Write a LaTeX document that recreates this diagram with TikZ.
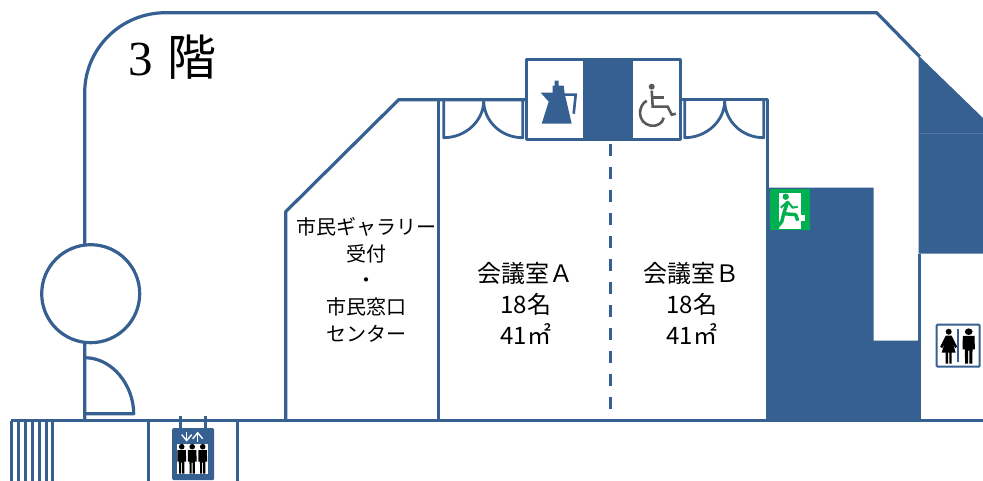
\documentclass[tikz,border=0pt]{standalone}
\usepackage{fontspec}
\setmainfont{Carlito}
\newfontfamily\cjk{Noto Sans CJK JP}
\newfontfamily\titleserif{Liberation Serif}
\usetikzlibrary{arrows.meta}
\definecolor{wallblue}{HTML}{376092}
\definecolor{exitgreen}{HTML}{00B050}
\definecolor{signgrey}{HTML}{595959}

\begin{document}
\begin{tikzpicture}[
    x=1pt, y=-1pt,
    wall/.style={draw=wallblue, line width=3.2pt, line join=round},
    thinwall/.style={draw=wallblue, line width=2.6pt},
    solid block/.style={fill=wallblue},
    room label/.style={align=center, font=\cjk\fontsize{24}{31}\selectfont},
    desk label/.style={align=center, font=\cjk\fontsize{20}{26.7}\selectfont},
    man/.pic={
        \fill (0,0) circle (2.8);
        \fill (-4.2,3.5) -- (4.2,3.5) -- (4.4,15) -- (3,15) -- (2.8,8) -- (2.6,27) -- (0.5,27) -- (0.5,16)
            -- (-0.5,16) -- (-0.5,27) -- (-2.6,27) -- (-2.8,8) -- (-3,15) -- (-4.4,15) -- cycle;
    },
    woman/.pic={
        \fill (0,0) circle (3);
        \fill (-3,4) -- (3,4) -- (8.5,15) -- (6.5,16.5) -- (4,11) -- (7,21) -- (3,21) -- (3,32) -- (0.6,32) -- (0.6,21)
            -- (-0.6,21) -- (-0.6,32) -- (-3,32) -- (-3,21) -- (-7,21) -- (-4,11) -- (-6.5,16.5) -- (-8.5,15) -- cycle;
    }
]

    % Page
    \useasboundingbox (-0.7,-0.7) rectangle (982.3,480.3);
    \fill[white] (-0.7,-0.7) rectangle (982.3,480.3);

    % Blue areas
    \fill[solid block] (767,187) -- (873,187) -- (873,340) -- (919,340) -- (919,420) -- (767,420) -- cycle;
    \fill[solid block] (918,55) -- (983,118) -- (983,253) -- (918,253) -- cycle;
    \draw[wallblue!85!white, line width=0.5pt] (918,133) -- (983,133);

    % Outer walls
    \draw[wall] (84,420) -- (84,92) .. controls (84,48) and (120,12) .. (165,12) -- (876,12) -- (919,56);
    \draw[wall] (919,253) -- (919,420);
    \draw[thinwall] (10,420) -- (983,420);
    \foreach \stripex in {11,18,25,32,39,46,52}
        \draw[thinwall] (\stripex,420) -- (\stripex,481);
    \draw[thinwall] (148,420) -- (148,481);
    \draw[thinwall] (237,420) -- (237,481);

    % Circle and door
    \draw[wall, fill=white] (90,293) circle (49);
    \draw[wall] (84,357) .. controls (112,357) and (133,385) .. (133,413) -- (84,413);

    % Rooms
    \draw[wall] (285,420) -- (285,211) -- (398,99) -- (526,99);
    \draw[wall] (438,99) -- (438,420);
    \draw[wall] (680,99) -- (767,99) -- (767,420);
    \draw[draw=wallblue, line width=3.4pt, dash pattern=on 12pt off 11pt] (610,143) -- (610,420);

    % Double doors
    \foreach \doorx in {443,684} {
        \draw[wall, line width=2.8pt] (\doorx,100) -- (\doorx,137) .. controls (\doorx+22,137) and (\doorx+40,120) .. (\doorx+40,100)
            .. controls (\doorx+40,120) and (\doorx+57,137) .. (\doorx+79,137) -- (\doorx+79,100);
    }

    % Kitchen and accessible toilet
    \fill[solid block] (582,59) rectangle (632,139);
    \draw[wall, line width=2.6pt] (526,59) rectangle (680,139);
    \fill[wallblue] (541,123) -- (548,101) -- (540,92) -- (552,92) -- (552,85) -- (554,85) -- (554,80) -- (558,80)
        -- (558,85) -- (563,85) -- (564,93) -- (571,123) -- cycle;
    \draw[draw=wallblue, line width=2.6pt] (563,94) -- (575,94) -- (573,113);
    \fill[signgrey] (651,86) circle (3);
    \draw[draw=signgrey, line width=2.6pt] (651,90) -- (652,106) -- (667,106) -- (671,114) -- (675,113);
    \draw[draw=signgrey, line width=2.6pt] (652,97) -- (663,97);
    \draw[draw=signgrey, line width=2.6pt] (646,100) .. controls (637,105) and (636,122) .. (650,125)
        .. controls (657,126) and (662,122) .. (663,117);

    % Exit sign
    \fill[exitgreen] (769,188) rectangle (809,229);
    \fill[white] (778,192) rectangle (800,228);
    \fill[white] (800,214) rectangle (804,220);
    \fill[exitgreen] (785,196) circle (3.2);
    \draw[draw=exitgreen, line width=3.4pt, line join=round] (787,201) -- (783,213) -- (795,214) -- (797,220);
    \draw[draw=exitgreen, line width=3.4pt, line join=round] (783,213) -- (781,221) -- (776,227);
    \draw[draw=exitgreen, line width=2pt, line join=round] (780,207) -- (787,201) -- (792,207) -- (797,206);

    % Elevator sign
    \draw[thinwall] (180,415) -- (180,428);
    \draw[thinwall] (205,415) -- (205,428);
    \draw[solid block, draw=wallblue, line width=1pt, rounded corners=1pt] (172,428) rectangle (213,479);
    \fill[white] (176,443) rectangle (207,473);
    \draw[draw=white, line width=1.4pt, -{Straight Barb[length=6pt,width=10pt]}] (186,431) -- (186,441);
    \draw[draw=white, line width=1.4pt, -{Straight Barb[length=6pt,width=10pt]}] (197,441) -- (197,431);
    \foreach \manx in {181,191.5,202}
        \pic[black] at (\manx,446) {man};

    % Toilet sign
    \draw[draw=wallblue, line width=2pt, fill=white, rounded corners=1pt] (936,324) rectangle (979,366);
    \draw[draw=wallblue, line width=2.2pt] (957,328) -- (957,361);
    \pic[black] at (948,331) {woman};
    \pic[black, xscale=1.4, yscale=1.18] at (968,331) {man};

    % Labels
    \node (floor) [anchor=west, font=\fontsize{49}{49}\selectfont] at (124,56) {{\titleserif 3}\hspace{15pt}{\cjk 階}};
    \node (desk) [desk label] at (366,279) {市民ギャラリー\\受付\\・\\市民窓口\\センター};
    \node (rooma) [room label] at (525,303) {会議室Ａ\\18名\\41㎡};
    \node (roomb) [room label] at (691,303) {会議室Ｂ\\18名\\41㎡};
\end{tikzpicture}
\end{document}
